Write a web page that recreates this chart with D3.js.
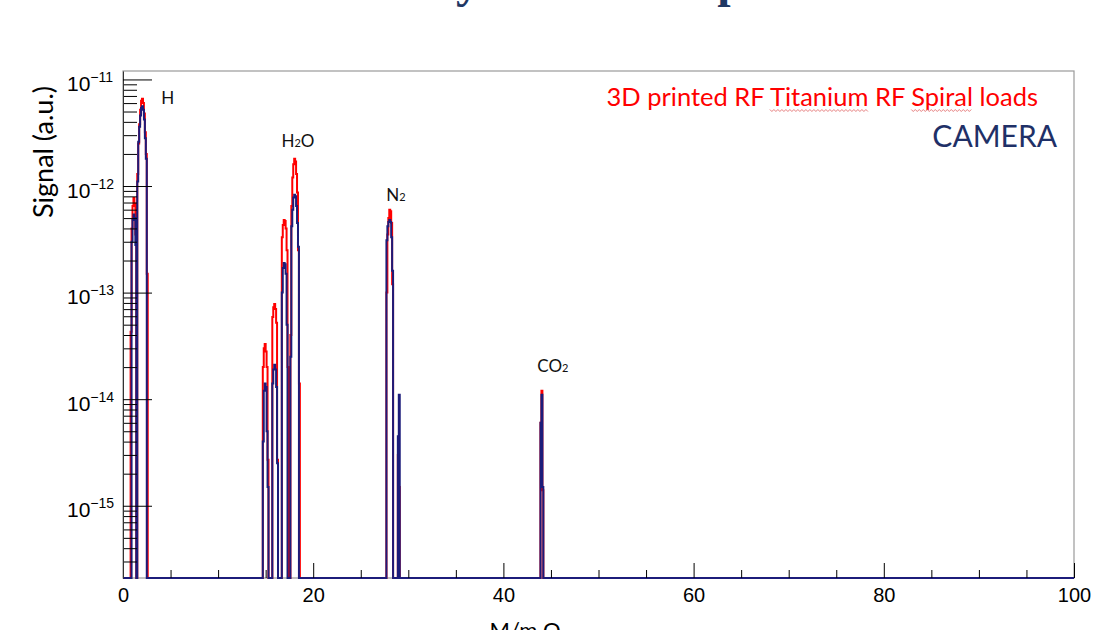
<!DOCTYPE html>
<html>
<head>
<meta charset="utf-8">
<script src="https://cdn.jsdelivr.net/npm/d3@7"></script>
<style>
  body { margin: 0; background: #fff; }
  svg { display: block; }
</style>
</head>
<body>
<div id="chart"></div>
<script>
// mass axis (amu) and signal axis (a.u.)
var xTicks = [0, 20, 40, 60, 80, 100];
var yDecades = [-11, -12, -13, -14, -15];
var binWidth = 0.1;

// first bin (amu) of every peak group
var peakStart = [0.8, 1.5, 14.7, 15.7, 16.7, 17.6, 27.7, 28.9, 43.9];

// 3D printed RF Titanium RF Spiral loads
var redSignal = [
  [4.3e-14, 4e-13, 6.5e-13, 7.7e-13, 6.8e-13, 3.5e-13],
  [1.3e-12, 2.5e-12, 3.8e-12, 5.2e-12, 6.3e-12, 6.6e-12, 6e-12, 4.8e-12, 3.2e-12, 2e-12, 1.5e-13],
  [2e-14, 3e-14, 3.3e-14, 2.8e-14, 2e-14, 2.7e-15],
  [5.9e-14, 7.3e-14, 7.8e-14, 7e-14, 5.2e-14, 2.7e-15],
  [3.3e-13, 4.3e-13, 4.8e-13, 4.7e-13, 4e-13, 2.5e-13, 2e-14],
  [4e-14, 6.5e-13, 1.2e-12, 1.6e-12, 1.8e-12, 1.7e-12, 1.3e-12, 8.7e-13, 2.5e-13, 1.4e-14],
  [1e-13, 3.5e-13, 5e-13, 6e-13, 5.8e-13, 4.5e-13, 1.2e-13],
  [3e-15, 1.5e-15],
  [6e-15, 1.2e-14, 1.4e-15]
];

// CAMERA
var navySignal = [
  [0, 3e-13, 4.8e-13, 5.4e-13, 5e-13, 2.8e-13],
  [1.1e-12, 2.6e-12, 3.6e-12, 4.6e-12, 5.4e-12, 5.6e-12, 5.2e-12, 4.2e-12, 2.8e-12, 1.8e-12, 0],
  [4e-15, 1.2e-14, 1.4e-14, 1.3e-14, 5e-15, 1.5e-15],
  [1.4e-14, 1.9e-14, 2.1e-14, 1.9e-14, 1.3e-14, 2.5e-15],
  [1e-13, 1.7e-13, 1.9e-13, 1.85e-13, 1.5e-13, 5e-14, 0],
  [2.5e-14, 4.2e-13, 6e-13, 7.8e-13, 8.3e-13, 8e-13, 6.5e-13, 4.5e-13, 2.7e-13, 0],
  [3.1e-13, 4.2e-13, 4.6e-13, 4.8e-13, 4.6e-13, 3.3e-13, 1.6e-13],
  [4.5e-15, 1.1e-14],
  [6e-15, 1.1e-14, 1.5e-15]
];

var peakLabels = [
  { text: "H", sub: "", after: "", m: 4.7, v: 5.9e-12 },
  { text: "H", sub: "2", after: "O", m: 18.4, v: 2.3e-12 },
  { text: "N", sub: "2", after: "", m: 28.7, v: 7.2e-13 },
  { text: "CO", sub: "2", after: "", m: 45.2, v: 1.8e-14 }
];

var width = 1094, height = 630;
var margin = { top: 71, right: 20, bottom: 52, left: 123 };

var svg = d3.select("#chart")
  .append("svg")
  .attr("width", width)
  .attr("height", height);

var x = d3.scaleLinear()
  .domain([0, 100])
  .range([margin.left, width - margin.right]);

var y = d3.scaleLog()
  .domain([2.1e-16, 1.2e-11])
  .range([height - margin.bottom, margin.top]);

var bottom = height - margin.bottom;

// slide title, mostly cut off above the picture
svg.append("text")
  .attr("x", 574)
  .attr("y", -3)
  .attr("text-anchor", "middle")
  .style("font-family", "Liberation Serif")
  .style("font-weight", "bold")
  .style("font-size", "48px")
  .style("fill", "#1f3864")
  .text("Gas analysis and comparison");

// frame
svg.append("rect")
  .attr("x", x(0))
  .attr("y", margin.top)
  .attr("width", x(100) - x(0))
  .attr("height", bottom - margin.top)
  .attr("fill", "none")
  .attr("stroke", "#9a9a9a")
  .attr("stroke-width", 1.2);

// turn bins into one full histogram (zero where nothing was measured)
function buildHist(values) {
  var n = Math.round(100 / binWidth);
  var bins = new Array(n).fill(0);
  peakStart.forEach(function(s, p) {
    var first = Math.round(s / binWidth);
    values[p].forEach(function(v, k) { bins[first + k] = v; });
  });
  var pts = bins.map(function(v, i) { return { m: i * binWidth, v: v }; });
  pts.push({ m: 100, v: 0 });
  return pts;
}

var line = d3.line()
  .x(function(d) { return x(d.m); })
  .y(function(d) { return d.v > 0 ? y(d.v) : bottom; })
  .curve(d3.curveStepAfter);

svg.append("path")
  .datum(buildHist(redSignal))
  .attr("d", line)
  .attr("fill", "none")
  .attr("stroke", "#ff0000")
  .attr("stroke-width", 2);

svg.append("path")
  .datum(buildHist(navySignal))
  .attr("d", line)
  .attr("fill", "none")
  .attr("stroke", "#1c1c7a")
  .attr("stroke-width", 2);

// x axis: major every 20, minor every 5, ticks point inward
var minorX = d3.range(0, 101, 5).filter(function(d) { return d % 20 !== 0; });
svg.append("g")
  .attr("transform", "translate(0," + bottom + ")")
  .call(d3.axisBottom(x).tickValues(minorX).tickSizeInner(-8).tickSizeOuter(0).tickFormat(""))
  .call(function(g) { g.select(".domain").remove(); });

var xAxis = svg.append("g")
  .attr("transform", "translate(0," + bottom + ")")
  .call(d3.axisBottom(x).tickValues(xTicks).tickSizeInner(-15).tickSizeOuter(0).tickPadding(24));
xAxis.select(".domain").remove();
xAxis.selectAll("text")
  .attr("dy", 0)
  .style("font-family", "Liberation Sans")
  .style("font-size", "20px")
  .style("fill", "#000");

// y axis: decades long ticks, 2..9 short ticks
var minorY = [];
for (var e = -16; e <= -12; e++) {
  for (var k = 2; k <= 9; k++) {
    var v = k * Math.pow(10, e);
    if (v >= 2.1e-16 && v <= 1.2e-11) minorY.push(v);
  }
}
svg.append("g")
  .attr("transform", "translate(" + x(0) + ",0)")
  .call(d3.axisLeft(y).tickValues(minorY).tickSizeInner(-14).tickSizeOuter(0).tickFormat(""))
  .call(function(g) { g.select(".domain").remove(); });

var yAxis = svg.append("g")
  .attr("transform", "translate(" + x(0) + ",0)")
  .call(d3.axisLeft(y)
    .tickValues(yDecades.map(function(d) { return Math.pow(10, d); }))
    .tickSizeInner(-29).tickSizeOuter(0).tickFormat(""));
yAxis.select(".domain").attr("stroke", "#333");

yAxis.selectAll(".tick").each(function(d, i) {
  var t = d3.select(this).append("text")
    .attr("x", -56)
    .attr("y", 11)
    .attr("text-anchor", "start")
    .style("font-family", "Liberation Sans")
    .style("font-size", "21px")
    .style("fill", "#000");
  t.append("tspan").text("10");
  t.append("tspan")
    .attr("dy", -9)
    .style("font-size", "14px")
    .text("\u2212" + Math.abs(yDecades[i]));
});

svg.selectAll(".tick line").attr("stroke", "#000");

// y title
svg.append("text")
  .attr("transform", "translate(53,152) rotate(-90)")
  .attr("text-anchor", "middle")
  .style("font-family", "Lato")
  .style("font-size", "27px")
  .style("fill", "#000")
  .text("Signal (a.u.)");

// x title, cut off at the bottom of the picture
svg.append("text")
  .attr("x", 525)
  .attr("y", 638)
  .attr("text-anchor", "middle")
  .style("font-family", "Lato")
  .style("font-size", "22px")
  .style("fill", "#000")
  .text("M/m Q");

// peak labels
peakLabels.forEach(function(p) {
  var t = svg.append("text")
    .attr("x", x(p.m))
    .attr("y", y(p.v))
    .attr("text-anchor", "middle")
    .style("font-family", "Lato")
    .style("font-size", "17px")
    .style("fill", "#111");
  t.append("tspan").text(p.text);
  if (p.sub) t.append("tspan").style("font-size", "11px").text(p.sub);
  if (p.after) t.append("tspan").text(p.after);
});

// legend
var legend = svg.append("text")
  .attr("x", 1038)
  .attr("y", 106)
  .attr("text-anchor", "end")
  .style("font-family", "Lato")
  .style("font-size", "25.5px")
  .style("fill", "#ff0000");
var legendWords = ["3D printed RF ", "Titanium", " RF ", "Spiral", " loads"];
legendWords.forEach(function(w) { legend.append("tspan").text(w); });

// spell-check squiggles under two words
var node = legend.node();
[1, 3].forEach(function(wi) {
  var start = legendWords.slice(0, wi).join("").length;
  var len = legendWords[wi].length;
  var x0 = node.getStartPositionOfChar(start).x;
  var x1 = node.getEndPositionOfChar(start + len - 1).x;
  var pts = [];
  for (var px = x0, j = 0; px <= x1; px += 2, j++) pts.push([px, 110 + (j % 2 ? 1.5 : -0.5)]);
  svg.append("path")
    .attr("d", d3.line()(pts))
    .attr("fill", "none")
    .attr("stroke", "#e06060")
    .attr("stroke-width", 0.8);
});

svg.append("text")
  .attr("x", 1057)
  .attr("y", 147)
  .attr("text-anchor", "end")
  .style("font-family", "Lato")
  .style("font-size", "30px")
  .style("fill", "#1f3067")
  .text("CAMERA");
</script>
</body>
</html>
